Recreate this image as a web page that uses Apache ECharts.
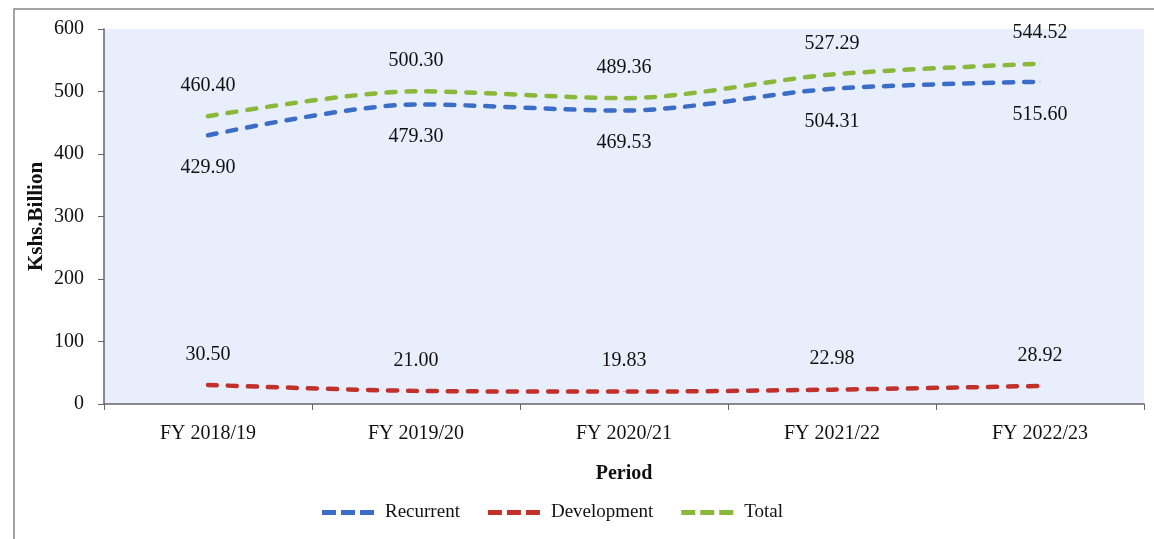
<!DOCTYPE html>
<html><head><meta charset="utf-8">
<script src="https://cdn.jsdelivr.net/npm/echarts@6/dist/echarts.min.js"></script>
<style>html,body{margin:0;padding:0;background:#fff}#c{width:1154px;height:539px}</style>
</head><body><div id="c"></div>
<script>
var categories = ['FY 2018/19','FY 2019/20','FY 2020/21','FY 2021/22','FY 2022/23'];
var recurrent = [429.90, 479.30, 469.53, 504.31, 515.60];
var development = [30.50, 21.00, 19.83, 22.98, 28.92];
var total = [460.40, 500.30, 489.36, 527.29, 544.52];
var yTicks = [0,100,200,300,400,500,600];

var font = 'Liberation Serif, DejaVu Serif, serif';
var dashIcon = 'path://M0,0h14v5h-14z M19,0h14v5h-14z M38,0h14v5h-14z';
var chart = echarts.init(document.getElementById('c'));
function mk(name, data, color, pos, dist){
  return {
    name: name, type: 'line', data: data, smooth: 0.3,
    symbol: 'circle', symbolSize: 1, showSymbol: true,
    lineStyle: {color: color, width: 4.5, type: [9, 11], cap: 'round'},
    itemStyle: {color: color},
    label: {show: true, position: pos, distance: dist, color: '#111', fontSize: 20, fontFamily: font,
      formatter: function(p){ return p.value.toFixed(2); }},
    emphasis: {disabled: true}
  };
}
chart.setOption({
  animation: false,
  textStyle: {fontFamily: font},
  graphic: [{type: 'rect', shape: {x: 14, y: 9, width: 1200, height: 600}, style: {fill: 'none', stroke: '#888', lineWidth: 1.5}, z: -10}],
  grid: {left: 104, right: 10, top: 29, bottom: 135, show: true, backgroundColor: '#e8eefb', borderWidth: 0},
  legend: {top: 498, left: 317, itemWidth: 52, itemHeight: 5, itemGap: 28,
    textStyle: {fontSize: 19, color: '#111', fontFamily: font, padding: [0, 0, 0, 6]},
    data: [
      {name: 'Recurrent', icon: dashIcon, itemStyle: {color: '#3b6cc6'}},
      {name: 'Development', icon: dashIcon, itemStyle: {color: '#c0312b'}},
      {name: 'Total', icon: dashIcon, itemStyle: {color: '#8ab83b'}}
    ]},
  xAxis: {type: 'category', data: categories, boundaryGap: true,
    name: 'Period', nameLocation: 'middle', nameGap: 60,
    nameTextStyle: {fontSize: 20, fontWeight: 'bold', color: '#111', fontFamily: font},
    axisLine: {lineStyle: {color: '#666', width: 1.5}},
    axisTick: {show: true, length: 6, lineStyle: {color: '#666'}},
    axisLabel: {fontSize: 20, color: '#111', margin: 20, fontFamily: font}},
  yAxis: {type: 'value', min: 0, max: 600, interval: 100,
    name: 'Kshs.Billion', nameLocation: 'middle', nameGap: 57, nameMoveOverlap: false,
    nameTextStyle: {fontSize: 21, fontWeight: 'bold', color: '#111', fontFamily: font},
    axisLine: {show: true, lineStyle: {color: '#666', width: 1.5}},
    axisTick: {show: true, length: 6, lineStyle: {color: '#666'}},
    splitLine: {show: false},
    axisLabel: {fontSize: 20, color: '#111', margin: 20, fontFamily: font,
      formatter: function(v){ return yTicks.indexOf(v) >= 0 ? String(v) : ''; }}},
  series: [
    mk('Recurrent', recurrent, '#3b6cc6', 'bottom', 22),
    mk('Development', development, '#c0312b', 'top', 20),
    mk('Total', total, '#8ab83b', 'top', 20)
  ]
});
</script></body></html>
